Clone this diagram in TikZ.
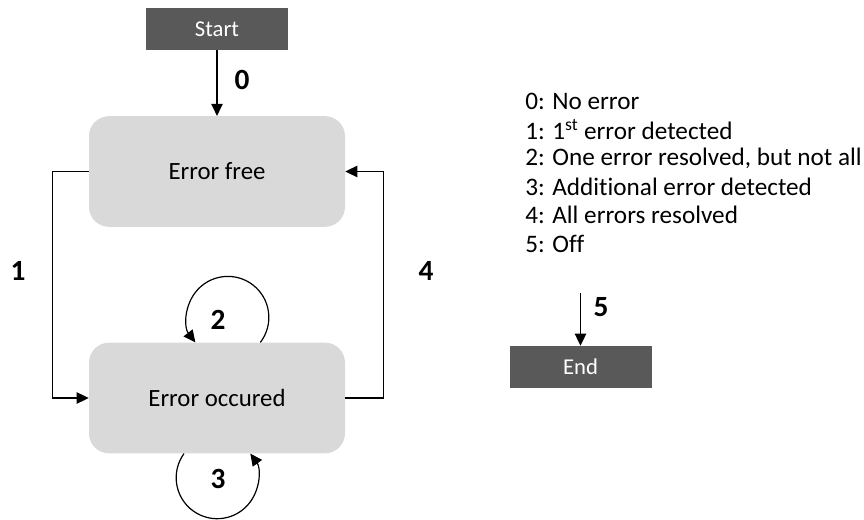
\documentclass[tikz,border=0pt]{standalone}
\usepackage{fontspec}
\setmainfont{Carlito}[Ligatures=NoCommon]
\usetikzlibrary{arrows.meta}
\begin{document}
\begin{tikzpicture}[x=0.75pt,y=0.75pt,
  term/.style={fill=termgray,minimum width=106.5pt,minimum height=31.5pt,inner sep=0pt,text=white,font=\fontsize{17}{19}\selectfont},
  state/.style={fill=stategray,rounded corners=15pt,minimum width=192pt,minimum height=83pt,inner sep=0pt,font=\fontsize{18.6}{22}\selectfont},
  conn/.style={line width=0.9pt,-{Triangle[length=9pt,width=8.5pt]}},
  num/.style={font=\fontsize{22}{26}\selectfont\bfseries,inner sep=0pt},
  legend/.style={anchor=west,inner sep=0pt,font=\fontsize{18.9}{22}\selectfont}]
\definecolor{termgray}{HTML}{595959}
\definecolor{stategray}{HTML}{D9D9D9}
\useasboundingbox (0,0) rectangle (864,519);
\node[term] (start) at (217,490) {Start};
\node[state] (free) at (217,347.5) {Error free};
\node[state] (occ) at (217,121) {Error occured};
\node[term] (end) at (580.5,152) {End};
\coordinate (endin) at (580.5,226);
\draw[conn] (start) -- (free);
\draw[conn] (free.west) -- ++(-36,0) |- (occ.west);
\draw[conn] (occ.east) -- ++(38,0) |- (free.east);
\draw[conn] (endin) -- (end);
\draw[conn] ([xshift=32.5pt]occ.north) arc[start angle=-37.6,end angle=217.6,radius=41];
\draw[conn] ([xshift=-24.75pt]occ.south) arc[start angle=144,end angle=396,radius=41];
\node[num] (l0) at (242,439) {0};
\node[num] (l1) at (18,248) {1};
\node[num] (l4) at (426,248) {4};
\node[num] (l2) at (218,199) {2};
\node[num] (l3) at (218,40) {3};
\node[num] (l5) at (601,212) {5};
\node[legend] (t0) at (525,418) {0: No error};
\node[legend] (t1) at (525,389.5) {1: 1\textsuperscript{st} error detected};
\node[legend] (t2) at (525,361) {2: One error resolved, but not all};
\node[legend] (t3) at (525,332.5) {3: Additional error detected};
\node[legend] (t4) at (525,304) {4: All errors resolved};
\node[legend] (t5) at (525,275.5) {5: Off};
\end{tikzpicture}
\end{document}
